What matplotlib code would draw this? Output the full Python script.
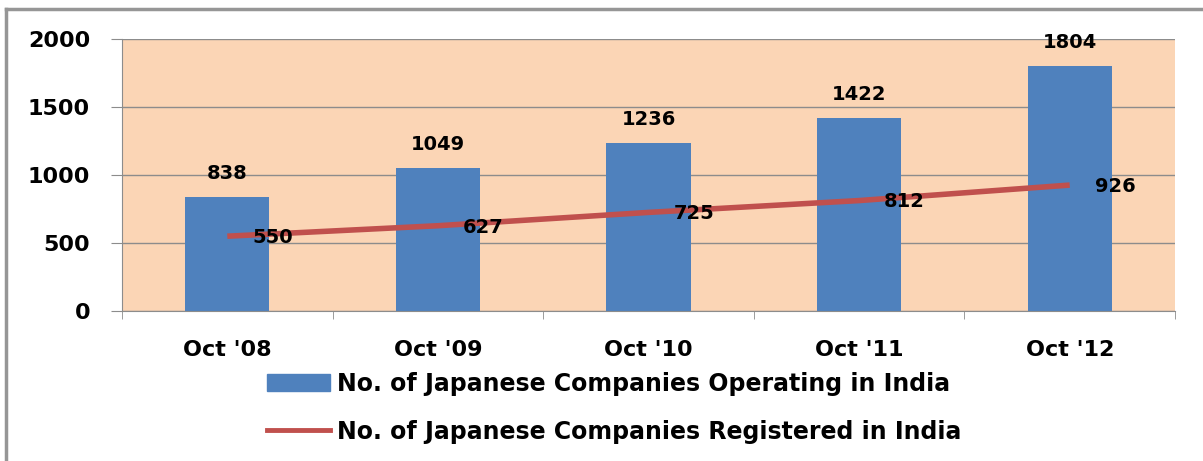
import matplotlib
matplotlib.use("Agg")
import matplotlib.pyplot as plt
from matplotlib.lines import Line2D
import numpy as np

categories = ["Oct '08", "Oct '09", "Oct '10", "Oct '11", "Oct '12"]
operating = [838, 1049, 1236, 1422, 1804]
registered = [550, 627, 725, 812, 926]
yticks = [0, 500, 1000, 1500, 2000]
label_op = "No. of Japanese Companies Operating in India"
label_reg = "No. of Japanese Companies Registered in India"

plt.rcParams['font.family'] = ['DejaVu Sans']

W, H = 1203, 461
fig = plt.figure(figsize=(W/100, H/100), dpi=100)
fig.patch.set_facecolor('white')

# outer border (left and top visible)
fig.add_artist(Line2D([6/W, 6/W], [0, 1-9/H], color='#969696', lw=2.5, transform=fig.transFigure))
fig.add_artist(Line2D([6/W, 1], [1-9/H, 1-9/H], color='#969696', lw=2.5, transform=fig.transFigure))

ax = fig.add_axes([122/W, 1-311/H, (1175-122)/W, (311-39)/H])
ax.set_facecolor('#FBD5B5')
x = np.arange(len(categories))
ax.set_xlim(-0.5, len(categories)-0.5)
ax.set_ylim(0, 2000)
ax.set_yticks(yticks)
ax.yaxis.grid(True, color='#8c8c8c', lw=1)
ax.set_axisbelow(True)

ax.bar(x, operating, width=0.4, color='#4F81BD', zorder=2)
ax.plot(x, registered, color='#C0504D', lw=4, zorder=3, solid_capstyle='butt')

for xi, v in zip(x, operating):
    ax.annotate(str(v), (xi, v), xytext=(0, 10), textcoords='offset points',
                ha='center', va='bottom', fontsize=14, fontweight='bold', zorder=4)
for xi, v in zip(x, registered):
    ax.annotate(str(v), (xi, v), xytext=(18, -1), textcoords='offset points',
                ha='left', va='center', fontsize=14, fontweight='bold', zorder=4)

for s in ['top', 'right']:
    ax.spines[s].set_visible(False)
ax.spines['left'].set_color('#8c8c8c')
ax.spines['bottom'].set_color('#8c8c8c')

ax.set_yticklabels([str(t) for t in yticks], fontsize=16, fontweight='bold')
ax.tick_params(axis='y', length=8, color='#8c8c8c', pad=15)
ax.set_xticks(x)
ax.set_xticklabels(categories, fontsize=16, fontweight='bold')
ax.tick_params(axis='x', length=0, pad=21)
ax.set_xticks(np.arange(-0.5, len(categories)), minor=True)
ax.tick_params(axis='x', which='minor', length=6, color='#8c8c8c')

handles = [plt.Rectangle((0, 0), 1, 1, color='#4F81BD'),
           Line2D([0], [0], color='#C0504D', lw=3.5)]
fig.legend(handles, [label_op, label_reg], loc='upper left',
           bbox_to_anchor=(267/W, 1-372/H), frameon=False,
           prop={'size': 17, 'weight': 'bold'}, handlelength=2.65, handletextpad=0.32,
           labelspacing=1.0, borderaxespad=0, borderpad=0)

fig.savefig('out.png', dpi=100, facecolor='white')
